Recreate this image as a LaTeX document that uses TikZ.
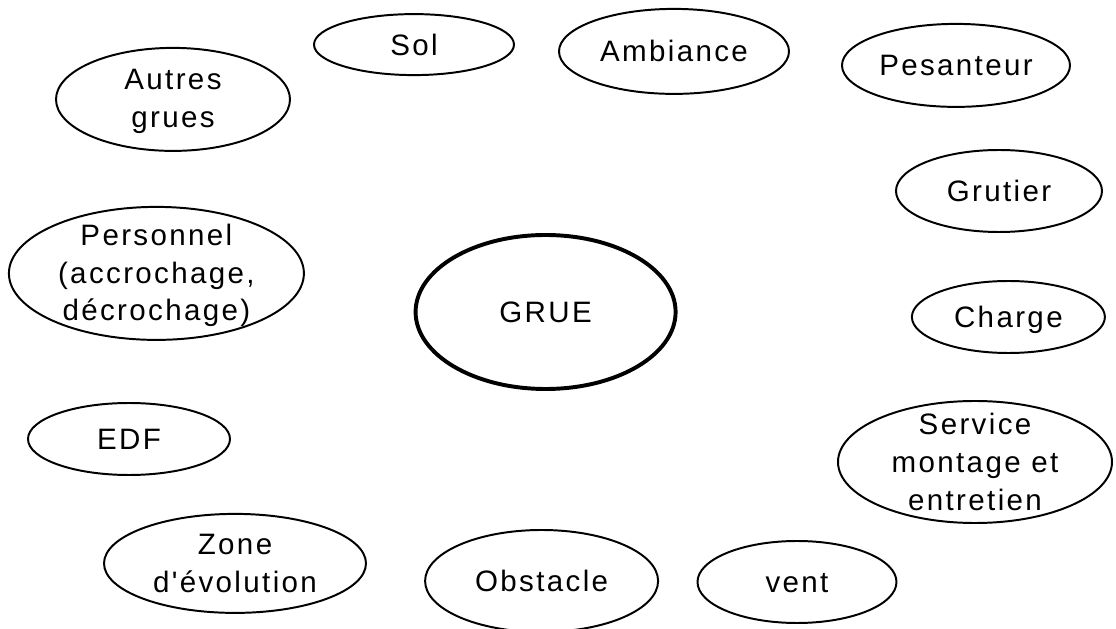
\documentclass[tikz,border=0pt]{standalone}
\usepackage{fontspec}
\newfontfamily\bulletxt[LetterSpace=8]{Liberation Sans}
\usetikzlibrary{shapes}

\begin{document}
\begin{tikzpicture}[
	bulle/.style={draw, ellipse, line width=1.4pt, inner sep=0pt},
	etiq/.style={font=\bulletxt\fontsize{21pt}{27pt}\selectfont, align=center, inner sep=0pt},
	ligne/.style={etiq, text height=15pt, text depth=0pt}
	]
		\useasboundingbox (0,0) rectangle (27.9,15.725);
		
		\node [bulle, minimum width=5cm, minimum height=1.525cm] (sol) at (10.35,14.61) {};
		\node [ligne] (tsol) at (sol) {Sol};
		
		\node [bulle, minimum width=5.75cm, minimum height=2.125cm] (ambiance) at (16.85,14.44) {};
		\node [ligne] (tambiance) at (ambiance) {Ambiance};
		
		\node [bulle, minimum width=5.7cm, minimum height=2.075cm] (pesanteur) at (23.9,14.09) {};
		\node [ligne] (tpesanteur) at (pesanteur) {Pesanteur};
		
		\node [bulle, minimum width=5.85cm, minimum height=2.575cm] (autres) at (4.325,13.24) {};
		\node [etiq, yshift=-0.05cm] (tautres) at (autres) {Autres\\grues};
		
		\node [bulle, minimum width=5.15cm, minimum height=2.05cm] (grutier) at (24.975,10.95) {};
		\node [ligne] (tgrutier) at (grutier) {Grutier};
		
		\node [bulle, minimum width=7.375cm, minimum height=3.325cm] (personnel) at (3.91,8.89) {};
		\node [etiq, yshift=-0.05cm] (tpersonnel) at (personnel) {Personnel\\(accrochage,\\décrochage)};
		
		\node [bulle, line width=2.8pt, minimum width=6.5cm, minimum height=3.85cm] (grue) at (13.64,7.925) {};
		\node [ligne] (tgrue) at (grue) {GRUE};
		
		\node [bulle, minimum width=4.825cm, minimum height=1.8cm] (charge) at (25.21,7.8) {};
		\node [ligne] (tcharge) at (charge) {Charge};
		
		\node [bulle, minimum width=5.05cm, minimum height=1.8cm] (edf) at (3.225,4.75) {};
		\node [ligne] (tedf) at (edf) {EDF};
		
		\node [bulle, minimum width=6.85cm, minimum height=3.05cm] (service) at (24.375,4.175) {};
		\node [etiq] (tservice) at (service) {Service\\montage et\\entretien};
		
		\node [bulle, minimum width=6.55cm, minimum height=2.475cm] (zone) at (5.875,1.64) {};
		\node [etiq] (tzone) at (zone) {Zone\\d'évolution};
		
		\node [bulle, minimum width=5.825cm, minimum height=2.55cm] (obstacle) at (13.54,1.2) {};
		\node [ligne] (tobstacle) at (obstacle) {Obstacle};
		
		\node [bulle, minimum width=4.975cm, minimum height=2.05cm] (vent) at (19.925,1.175) {};
		\node [ligne] (tvent) at (vent) {vent};
		
\end{tikzpicture}
\end{document}
